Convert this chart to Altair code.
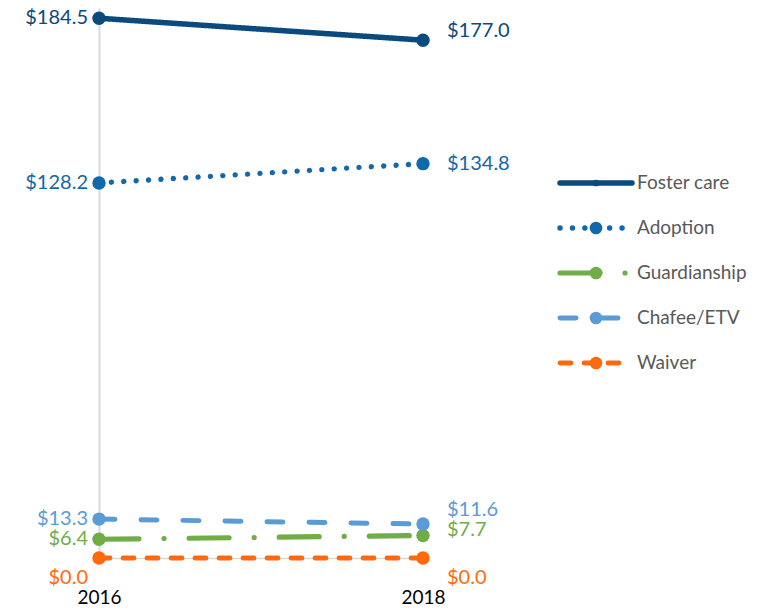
import altair as alt
import pandas as pd

# ---- data ----
series = ["Foster care", "Adoption", "Guardianship", "Chafee/ETV", "Waiver"]
years = [2016, 2018]
values_2016 = [184.5, 128.2, 6.4, 13.3, 0.0]
values_2018 = [177.0, 134.8, 7.7, 11.6, 0.0]

# ---- styles ----
colors = ["#0b4a7c", "#1168aa", "#70ad47", "#5b9bd5", "#ff6a0d"]
dashes = [[1, 0], [0.1, 12.3], [40, 25, 0.1, 25], [16, 26], [11, 13]]
widths = [5.5, 4.8, 5.5, 6, 5.5]
FONT = "Lato"
# vertical label nudges (pixels) for readability
left_nudges = {"Waiver": 20}
right_nudges = {"Foster care": -9, "Guardianship": -5, "Chafee/ETV": -14, "Waiver": 20}

rows = []
for s, a, b in zip(series, values_2016, values_2018):
    rows.append({"series": s, "year": years[0], "value": a})
    rows.append({"series": s, "year": years[1], "value": b})
df = pd.DataFrame(rows)

color = alt.Color("series:N", scale=alt.Scale(domain=series, range=colors), legend=None)
dash = alt.StrokeDash("series:N", scale=alt.Scale(domain=series, range=dashes), legend=None)
swidth = alt.StrokeWidth("series:N", scale=alt.Scale(domain=series, range=widths), legend=None)

x = alt.X("year:Q", scale=alt.Scale(domain=[2016, 2018], nice=False, zero=False),
          axis=alt.Axis(values=years, format="d", title=None, grid=False, ticks=False,
                        domain=True, domainColor="#d9d9d9", domainWidth=1.5,
                        labelFlush=False, labelPadding=30, labelFontSize=19,
                        labelFont=FONT, labelColor="#000000"))
y = alt.Y("value:Q", scale=alt.Scale(domain=[0, 188], nice=False),
          axis=alt.Axis(title=None, labels=False, ticks=False, grid=False,
                        domain=True, domainColor="#d9d9d9", domainWidth=2))

base = alt.Chart(df)
lines = base.mark_line(strokeCap="round").encode(x=x, y=y, color=color, strokeDash=dash,
                                                 strokeWidth=swidth, detail="series:N")
points = base.mark_circle(size=180, opacity=1).encode(x=x, y=y, color=color)

label_expr = '"$" + format(datum.value, ".1f")'


def label_layers(year, align, dx, nudges):
    layers = []
    groups = {}
    for s in series:
        groups.setdefault(nudges.get(s, 0), []).append(s)
    for dy, members in groups.items():
        layers.append(
            base.transform_filter(f"datum.year == {year}")
            .transform_filter(alt.FieldOneOfPredicate(field="series", oneOf=members))
            .transform_calculate(label=label_expr)
            .mark_text(align=align, baseline="middle", dx=dx, dy=dy, fontSize=20, font=FONT)
            .encode(x=x, y=y, text="label:N", color=color)
        )
    return layers


main = alt.layer(lines, points,
                 *label_layers(2016, "right", -11, left_nudges),
                 *label_layers(2018, "left", 24, right_nudges))

# ---- custom legend ----
leg_rows = []
for s in series:
    leg_rows.append({"series": s, "lx": 0.0})
    leg_rows.append({"series": s, "lx": 1.0})
leg_df = pd.DataFrame(leg_rows)
mid_df = pd.DataFrame({"series": series, "lx": [0.5] * len(series)})
end_df = pd.DataFrame({"series": series, "lx": [1.0] * len(series)})

lx = alt.X("lx:Q", scale=alt.Scale(domain=[0, 1], range=[461, 533], nice=False, zero=False), axis=None)
ly = alt.Y("series:N", scale=alt.Scale(type="point", domain=series, range=[175, 355], padding=0), axis=None)

leg_lines = alt.Chart(leg_df).mark_line(strokeCap="round").encode(
    x=lx, y=ly, color=color, strokeDash=dash, strokeWidth=swidth, detail="series:N")
leg_point_small = alt.Chart(mid_df).transform_filter("datum.series == 'Foster care'").mark_circle(
    opacity=1, size=45).encode(x=lx, y=ly, color=color)
leg_point_big = alt.Chart(mid_df).transform_filter("datum.series != 'Foster care'").mark_circle(
    opacity=1, size=160).encode(x=lx, y=ly, color=color)
leg_text = alt.Chart(end_df).mark_text(align="left", baseline="middle", dx=5, fontSize=19,
                                       font=FONT, color="#595959").encode(
    x=lx, y=ly, text="series:N")

legend = alt.layer(leg_lines, leg_point_small, leg_point_big, leg_text)

chart = alt.layer(main, legend).resolve_scale(x="independent", y="independent").properties(
    width=324, height=550, autosize="none",
    padding={"left": 91, "top": 0, "right": 345, "bottom": 49},
).configure_view(stroke=None)

chart.save("out.html", embed_options={"renderer": "svg", "actions": False})
